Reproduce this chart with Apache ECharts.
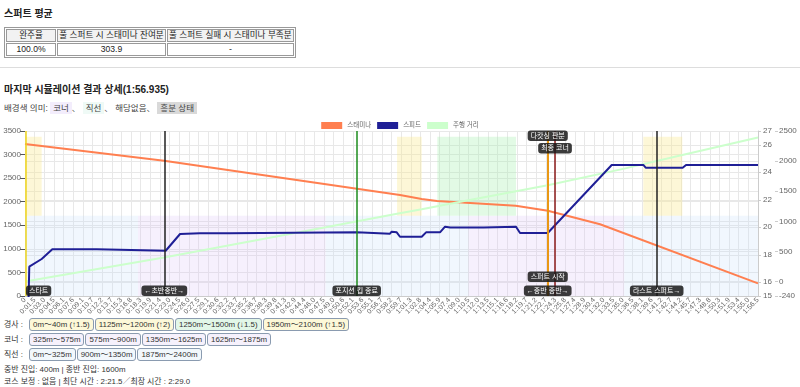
<!DOCTYPE html>
<html><head><meta charset="utf-8">
<script src="https://cdn.jsdelivr.net/npm/echarts@6/dist/echarts.min.js"></script>
<style>
body{margin:0;width:800px;height:387px;overflow:hidden;background:#fff;font-family:Arial,"Liberation Sans","Noto Sans CJK KR",sans-serif;color:#222;position:relative;}
.abs{position:absolute;white-space:nowrap;}
.h{font-size:10px;font-weight:bold;color:#222;}
table.avg{border:1px solid #999;border-collapse:separate;border-spacing:1px;font-size:8.6px;}
table.avg td{border:1px solid #999;padding:0 1px;text-align:center;height:11px;line-height:11px;}
table.avg tr.hd td{background:#f2f2f2;}
.hr{left:0;width:800px;top:67px;height:0;border-top:1px solid #ddd;}
.small{font-size:8.5px;color:#444;}
.tag{padding:1px 3px;}
.row{font-size:7.9px;color:#333;}
.box{display:inline-block;border:1px solid #8a9bb0;border-radius:3px;padding:0 3px;height:11px;line-height:11px;margin-right:1px;}
.first{margin-left:4px;}
.up{background:#fdf8d8;}
.down{background:#e2f7e8;}
.corner{background:#f6f1fc;}
.straight{background:#f2f8fc;}
</style></head>
<body>
<div class="abs h" style="left:4px;top:5px;">스퍼트 평균</div>
<table class="avg abs" style="left:4px;top:27px;">
<tr class="hd"><td style="width:46px">완주율</td><td style="width:105px">풀 스퍼트 시 스태미나 잔여분</td><td style="width:119px">풀 스퍼트 실패 시 스태미나 부족분</td></tr>
<tr><td>100.0%</td><td>303.9</td><td>-</td></tr>
</table>
<div class="abs hr"></div>
<div class="abs h" style="left:4px;top:81px;">마지막 시뮬레이션 결과 상세(1:56.935)</div>
<div class="abs small" style="left:4px;top:101px;">배경색 의미: <span class="tag" style="background:#f3edfc">코너</span>、 <span class="tag" style="background:#effaf6">직선</span>、 해당없음、 <span class="tag" style="background:#d9d9d9">흥분 상태</span></div>
<div id="chart" class="abs" style="left:0;top:113px;width:800px;height:205px;"></div>
<div class="abs row" style="left:4px;top:318px;">경사 : <span class="box up first">0m〜40m (↑1.5)</span><span class="box up">1125m〜1200m (↑2)</span><span class="box down">1250m〜1500m (↓1.5)</span><span class="box up">1950m〜2100m (↑1.5)</span></div>
<div class="abs row" style="left:4px;top:333px;">코너 : <span class="box corner first">325m〜575m</span><span class="box corner">575m〜900m</span><span class="box corner">1350m〜1625m</span><span class="box corner">1625m〜1875m</span></div>
<div class="abs row" style="left:4px;top:348px;">직선 : <span class="box straight first">0m〜325m</span><span class="box straight">900m〜1350m</span><span class="box straight">1875m〜2400m</span></div>
<div class="abs row" style="left:4px;top:363px;">중반 진입: 400m | 종반 진입: 1600m</div>
<div class="abs row" style="left:4px;top:375px;">코스 보정 : 없음 | 최단 시간 : 2:21.5／최장 시간 : 2:29.0</div>
<script>
// ---- data ----
const tickLabels = ["0","0:01.5","0:03.0","0:04.5","0:06.1","0:07.6","0:09.1","0:10.7","0:12.2","0:13.7","0:15.3","0:16.8","0:18.3","0:19.9","0:21.4","0:23.0","0:24.5","0:26.0","0:27.5","0:29.1","0:30.6","0:32.2","0:33.7","0:35.2","0:36.7","0:38.3","0:39.8","0:41.3","0:42.9","0:44.4","0:46.0","0:47.5","0:49.0","0:50.6","0:52.1","0:53.6","0:55.1","0:56.7","0:58.2","0:59.7","1:01.3","1:02.8","1:04.4","1:05.9","1:07.4","1:09.0","1:10.5","1:12.0","1:13.5","1:15.1","1:16.6","1:18.2","1:19.7","1:21.2","1:22.7","1:24.3","1:25.8","1:27.4","1:28.9","1:30.4","1:32.0","1:33.5","1:35.0","1:36.5","1:38.1","1:39.6","1:41.2","1:42.7","1:44.2","1:45.7","1:47.3","1:48.8","1:50.3","1:51.9","1:53.4","1:55.0","1:56.5"];
const timeMax = 116.5;
const speedT = [0,0.68,2.65,4.34,11.40,11.65,22.36,24.64,27.81,32.58,32.69,52.72,52.97,58.01,58.28,59.08,59.6,63.05,63.74,65.96,66.76,67.6,72.9,73.2,78.04,78.68,83.08,93.25,98.27,98.65,104.53,105.06,116.5];
const speedV = [3,17.13,17.69,18.4,18.4,18.29,18.29,19.51,19.56,19.56,19.63,19.63,19.53,19.53,19.68,19.63,19.31,19.31,19.63,19.63,20.04,19.98,19.98,20.04,20.04,19.58,19.58,24.53,24.53,24.33,24.33,24.53,24.53];
const staminaT = [0,22.1,59.6,63.05,65.5,78.0,83.1,91.4,116.5];
const staminaV = [3225,2870,2142,2057,2015,1915,1809,1521,269];
const distT = [0,17.96,22.09,47.79,59.13,63.05,65.53,70.46,78.04,83.08,95.25,98.27,104.47,116.5];
const distV = [0,325,400,900,1125,1200,1250,1350,1500,1600,1875,1950,2100,2392];
const eventT = [0.15,22.14,52.72,83.08,83.08,83.08,84.24,100.4];
const eventName = ['스타트','←초반중반→','포지션 킵 종료','←중반 종반→','스퍼트 시작','다캇싱 판분','최종 코너','라스트 스퍼트→'];
const slopeZones = [[0,2.65,'up'],[59.13,63.05,'up'],[65.53,78.04,'down'],[98.27,104.47,'up']];
const cornerZones = [[17.96,31.09],[31.09,47.79],[70.46,84.24],[84.24,95.25]];
const straightZones = [[0,17.96],[47.79,70.46],[95.25,116.5]];

// ---- style ----
const zip = (a,b)=>a.map((v,i)=>[v,b[i]]);
const evStyle = [
  {c:'#eed51c', pos:'start', d:-10.5, align:'left'},
  {c:'#222', pos:'start', d:-10.5},
  {c:'#1e8c1e', pos:'start', d:-10.5},
  {c:'#222', pos:'start', d:-10.5},
  {c:'#f39c12', pos:'start', d:-24.5},
  {c:'#f39c12', pos:'end', d:-10},
  {c:'#8b1a1a', pos:'end', d:-22.5},
  {c:'#222', pos:'start', d:-10.5}
];
const labelBase = {color:'#fff', backgroundColor:'rgba(25,25,25,0.85)', fontSize:7, padding:[1,3], borderRadius:3, lineHeight:8.5};
const markLineData = eventT.map((t,i)=>({
  xAxis:t,
  lineStyle:{color:evStyle[i].c, width:1.5, type:'solid'},
  label:Object.assign({show:true, formatter:eventName[i], position:evStyle[i].pos, distance:[0,evStyle[i].d]}, labelBase, evStyle[i].align?{align:evStyle[i].align}:{})
}));
const zoneColor = {up:'rgba(250,232,140,0.35)', down:'rgba(160,240,170,0.3)', corner:'rgba(215,185,245,0.22)', straight:'rgba(190,220,250,0.22)'};
const areas = [];
slopeZones.forEach(z=>areas.push([{xAxis:z[0], yAxis:1700, itemStyle:{color:zoneColor[z[2]]}},{xAxis:z[1], yAxis:3380}]));
cornerZones.forEach(z=>areas.push([{xAxis:z[0], yAxis:0, itemStyle:{color:zoneColor.corner}},{xAxis:z[1], yAxis:1700}]));
straightZones.forEach(z=>areas.push([{xAxis:z[0], yAxis:0, itemStyle:{color:zoneColor.straight}},{xAxis:z[1], yAxis:1700}]));

const chart = echarts.init(document.getElementById('chart'));
const plain = v => String(v);
const axisLabelStyle = {fontSize:8, color:'#666', formatter:plain};
const split = {show:true, lineStyle:{color:'#e8e8e8', width:1}};
chart.setOption({
  animation:false,
  textStyle:{fontFamily:'Arial, "Liberation Sans", "Noto Sans CJK KR", sans-serif'},
  legend:{top:4, left:'center', itemWidth:21, itemHeight:7, itemGap:6, textStyle:{fontSize:6.5, color:'#666'}, icon:'rect', data:['스태미나','스피드','주행 거리']},
  grid:{left:25, right:42, top:18, bottom:22},
  xAxis:[
    {type:'category', data:tickLabels, boundaryGap:false, axisLabel:{rotate:45, interval:0, fontSize:7, color:'#666', margin:3}, axisTick:{show:false}, axisLine:{lineStyle:{color:'#ccc'}}, splitLine:{show:true, interval:0, lineStyle:{color:'#e8e8e8'}}},
    {type:'value', min:0, max:timeMax, show:false}
  ],
  yAxis:[
    {type:'value', min:0, max:3500, interval:500, position:'left', axisLabel:Object.assign({margin:4}, axisLabelStyle), splitLine:split, axisLine:{show:false}},
    {type:'value', min:15, max:27, position:'right', axisLabel:Object.assign({margin:5}, axisLabelStyle), splitLine:split, axisLine:{show:true, lineStyle:{color:'#ccc'}}, axisTick:{show:true, length:3, lineStyle:{color:'#ccc'}}},
    {type:'value', min:-240, max:2500, position:'right', offset:17, axisLabel:Object.assign({margin:4}, axisLabelStyle), splitLine:split, axisLine:{show:false}, axisTick:{show:true, length:3, lineStyle:{color:'#ccc'}}}
  ],
  series:[
    {name:'스태미나', type:'line', xAxisIndex:1, yAxisIndex:0, data:zip(staminaT, staminaV), showSymbol:false, symbol:'none', itemStyle:{color:'#ff7f50'}, lineStyle:{color:'#ff7f50', width:2}, z:3,
      markArea:{silent:true, data:areas}},
    {name:'스피드', type:'line', xAxisIndex:1, yAxisIndex:1, data:zip(speedT, speedV), showSymbol:false, symbol:'none', itemStyle:{color:'#1f1f96'}, lineStyle:{color:'#1f1f96', width:2}, z:4},
    {name:'주행 거리', type:'line', xAxisIndex:1, yAxisIndex:2, data:zip(distT, distV), showSymbol:false, symbol:'none', itemStyle:{color:'#ccffcc'}, lineStyle:{color:'#ccffcc', width:2}, z:3,
      markLine:{silent:true, symbol:['none','none'], animation:false, data:markLineData}}
  ]
});
</script>
</body></html>
